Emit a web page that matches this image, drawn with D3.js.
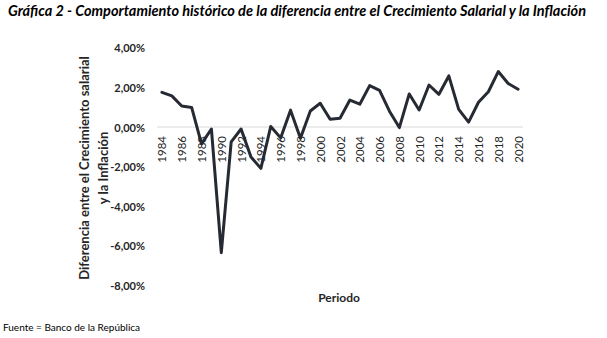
<!DOCTYPE html>
<html>
<head>
<meta charset="utf-8">
<script src="https://cdn.jsdelivr.net/npm/d3@7"></script>
<style>
    body { margin: 0; background: #ffffff; }
    svg { display: block; font-family: Lato, "Open Sans", sans-serif; }
</style>
</head>
<body>
<div id="chart"></div>
<script>

// years on the category axis
var years = d3.range(1984, 2021).map(String);

// difference between wage growth and inflation, in percent
var diffValues = [
    1.75, 1.57, 1.06, 0.99, -0.85, -0.1, -6.35, -0.75, -0.1, -1.52,
    -2.09, 0.03, -0.55, 0.85, -0.57, 0.81, 1.2, 0.39, 0.44, 1.36,
    1.15, 2.09, 1.85, 0.8, -0.03, 1.67, 0.86, 2.12, 1.65, 2.58,
    0.89, 0.25, 1.25, 1.78, 2.8, 2.2, 1.91
];

// only every other year gets a label
var yearLabels = years.filter(function (d, i) { return i % 2 === 0; });

var yTicks = [4, 2, 0, -2, -4, -6, -8];

var titleText = "Gráfica 2 - Comportamiento histórico de la diferencia entre el Crecimiento Salarial y la Inflación";
var yTitleLines = ["Diferencia entre el Crecimiento salarial", "y la Inflación"];
var xTitleText = "Periodo";
var sourceText = "Fuente = Banco de la República";

function drawChart(containerId) {

    var width = 607;
    var height = 338;

    var svg = d3.select("#" + containerId)
        .append("svg")
        .attr("width", width)
        .attr("height", height);

    var x = d3.scaleBand()
        .domain(years)
        .range([157, 523])
        .padding(0);

    var y = d3.scaleLinear()
        .domain([-8, 4])
        .range([285.4, 47.8]);

    var fmt = function (d) {
        return d.toFixed(2).replace(".", ",") + "%";
    };

    // title
    svg.append("text")
        .attr("x", 8)
        .attr("y", 16)
        .attr("textLength", 578)
        .attr("lengthAdjust", "spacingAndGlyphs")
        .style("font-size", "14.5px")
        .style("font-weight", "bold")
        .style("font-style", "italic")
        .style("fill", "#000")
        .text(titleText);

    // value axis labels
    svg.append("g")
        .selectAll("text")
        .data(yTicks)
        .enter()
        .append("text")
        .attr("x", 145)
        .attr("y", function (d) { return y(d); })
        .attr("text-anchor", "end")
        .attr("dominant-baseline", "central")
        .style("font-size", "11px")
        .style("font-weight", "bold")
        .style("fill", "#262626")
        .text(fmt);

    // axis line at zero
    svg.append("line")
        .attr("x1", x.range()[0])
        .attr("x2", x.range()[1])
        .attr("y1", y(0))
        .attr("y2", y(0))
        .style("stroke", "#d9d9d9")
        .style("stroke-width", 1);

    // rotated year labels
    svg.append("g")
        .selectAll("text")
        .data(yearLabels)
        .enter()
        .append("text")
        .attr("transform", function (d) {
            return "translate(" + (x(d) + x.bandwidth() / 2) + "," + (y(0) + 9) + ") rotate(-90)";
        })
        .attr("text-anchor", "end")
        .attr("dominant-baseline", "central")
        .style("font-size", "11.5px")
        .style("fill", "#262626")
        .text(function (d) { return d; });

    // axis titles
    svg.append("g")
        .selectAll("text")
        .data(yTitleLines)
        .enter()
        .append("text")
        .attr("transform", function (d, i) {
            return "translate(" + (84 + i * 18.5) + ",168) rotate(-90)";
        })
        .attr("text-anchor", "middle")
        .attr("dominant-baseline", "central")
        .style("font-size", "13px")
        .style("font-weight", "bold")
        .style("fill", "#262626")
        .text(function (d) { return d; });

    svg.append("text")
        .attr("x", 339)
        .attr("y", 297)
        .attr("text-anchor", "middle")
        .attr("dominant-baseline", "central")
        .style("font-size", "12px")
        .style("font-weight", "bold")
        .style("fill", "#262626")
        .text(xTitleText);

    // the series line
    var line = d3.line()
        .x(function (d, i) { return x(years[i]) + x.bandwidth() / 2; })
        .y(function (d) { return y(d); });

    svg.append("path")
        .datum(diffValues)
        .attr("d", line)
        .style("fill", "none")
        .style("stroke", "#262a33")
        .style("stroke-width", 3)
        .style("stroke-linejoin", "round")
        .style("stroke-linecap", "round");

    // source note
    svg.append("text")
        .attr("x", 3)
        .attr("y", 331)
        .style("font-size", "10px")
        .style("fill", "#000")
        .text(sourceText);
}

drawChart("chart");

</script>
</body>
</html>
